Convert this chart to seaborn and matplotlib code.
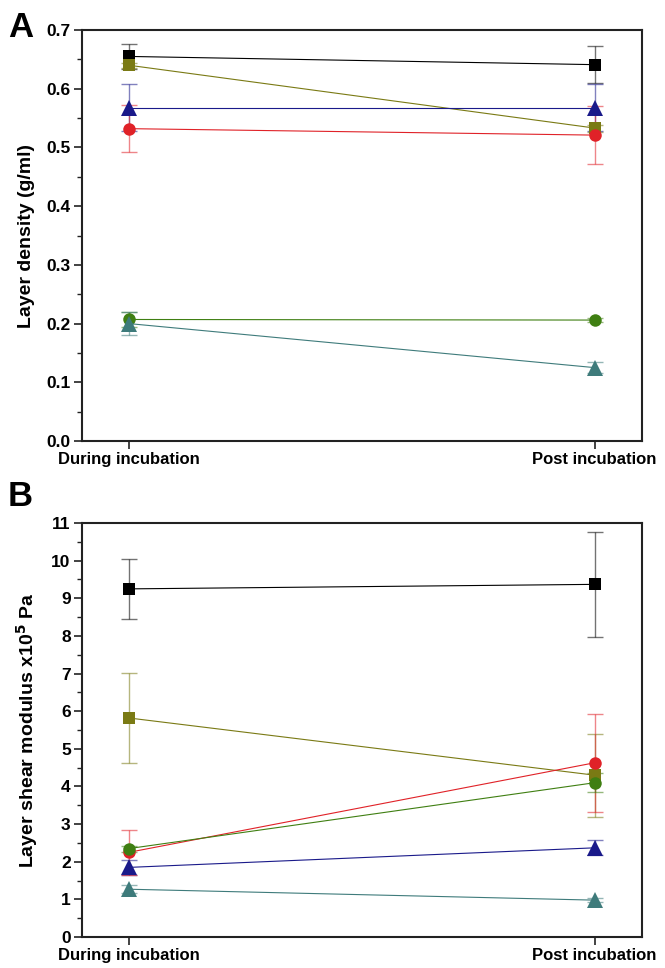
import numpy as np
import pandas as pd
import matplotlib
matplotlib.use('Agg')
import matplotlib.pyplot as plt
from matplotlib.ticker import MultipleLocator
import seaborn as sns

sns.set_style('white')
plt.rcParams['font.family'] = ['Liberation Sans', 'DejaVu Sans']
plt.rcParams['font.weight'] = 'bold'
plt.rcParams['text.color'] = 'black'
plt.rcParams['axes.labelcolor'] = 'black'
plt.rcParams['xtick.color'] = 'black'
plt.rcParams['ytick.color'] = 'black'

# Data
stages = ['During incubation', 'Post incubation']
series = ['black', 'olive', 'navy', 'red', 'green', 'teal']
colors = ['#000000', '#7a7a14', '#1a1a8a', '#e02228', '#3f7f12', '#3e7b7b']
markers = ['s', 's', '^', 'o', 'o', '^']

# Panel A: layer density (g/ml)
density_during = [0.655, 0.640, 0.568, 0.532, 0.207, 0.200]
density_post = [0.641, 0.533, 0.568, 0.521, 0.206, 0.125]
density_err_during = [0.021, 0.004, 0.040, 0.040, 0.012, 0.020]
density_err_post = [0.031, 0.006, 0.040, 0.050, 0.003, 0.010]

# Panel B: layer shear modulus x10^5 Pa
modulus_during = [9.25, 5.82, 1.85, 2.25, 2.35, 1.27]
modulus_post = [9.37, 4.30, 2.37, 4.63, 4.10, 0.98]
modulus_err_during = [0.80, 1.20, 0.20, 0.60, 0.08, 0.10]
modulus_err_post = [1.40, 1.10, 0.20, 1.30, 0.25, 0.06]


def long_df(during, post, err_d, err_p):
    rows = []
    for i, s in enumerate(series):
        rows.append((s, 0, during[i], err_d[i]))
        rows.append((s, 1, post[i], err_p[i]))
    return pd.DataFrame(rows, columns=['series', 'x', 'y', 'err'])


df_a = long_df(density_during, density_post, density_err_during, density_err_post)
df_b = long_df(modulus_during, modulus_post, modulus_err_during, modulus_err_post)

fig = plt.figure(figsize=(6.65, 9.68), dpi=100)
ax_a = fig.add_axes([0.123, 0.5444, 0.842, 0.4246])
ax_b = fig.add_axes([0.123, 0.032, 0.842, 0.4277])

palette = dict(zip(series, colors))
marker_map = dict(zip(series, markers))


def draw_panel(ax, df):
    # error bars first so markers sit on top
    for s in series:
        d = df[df['series'] == s]
        ax.errorbar(d['x'], d['y'], yerr=d['err'], fmt='none',
                    ecolor=palette[s], alpha=0.55, elinewidth=1.0,
                    capsize=6, capthick=1.0, zorder=2)
    sns.lineplot(data=df, x='x', y='y', hue='series', style='series',
                 palette=palette, markers=marker_map, dashes=False,
                 markersize=9, linewidth=0.8, markeredgewidth=0,
                 legend=False, ax=ax, zorder=3)
    # triangles look smaller than squares at equal size
    for ln in ax.lines:
        if ln.get_marker() == '^':
            ln.set_markersize(11.5)
    ax.set_xlim(-0.101, 1.101)
    ax.set_xticks([0, 1])
    ax.set_xticklabels(stages)
    ax.set_xlabel('')
    for sp in ax.spines.values():
        sp.set_visible(True)
        sp.set_color('#222222')
        sp.set_linewidth(1.5)
    ax.tick_params(axis='both', which='major', direction='out', length=6,
                   width=1.2, color='#222222', labelsize=12, left=True,
                   bottom=True, pad=2)
    ax.tick_params(axis='y', which='minor', direction='out', length=3.5,
                   width=1.0, color='#222222', left=True)
    for lbl in ax.get_xticklabels() + ax.get_yticklabels():
        lbl.set_fontweight('bold')


draw_panel(ax_a, df_a)
ax_a.set_ylim(0, 0.7)
ax_a.yaxis.set_major_locator(MultipleLocator(0.1))
ax_a.yaxis.set_minor_locator(MultipleLocator(0.05))
ax_a.set_yticklabels([f'{v:.1f}' for v in ax_a.get_yticks()], fontweight='bold', fontsize=12.5)
ax_a.set_ylabel('Layer density (g/ml)', fontsize=14, fontweight='bold', labelpad=8)

draw_panel(ax_b, df_b)
ax_b.set_ylim(0, 11)
ax_b.yaxis.set_major_locator(MultipleLocator(1))
ax_b.yaxis.set_minor_locator(MultipleLocator(0.5))
ax_b.set_yticklabels([f'{int(v)}' for v in ax_b.get_yticks()], fontweight='bold', fontsize=12.5)
ax_b.set_ylabel(r'Layer shear modulus x10$^{\mathbf{5}}$ Pa', fontsize=14,
                fontweight='bold', labelpad=8)

fig.text(0.012, 0.962, 'A', fontsize=25, fontweight='bold')
fig.text(0.012, 0.477, 'B', fontsize=25, fontweight='bold')

fig.savefig('out.png', dpi=100)
